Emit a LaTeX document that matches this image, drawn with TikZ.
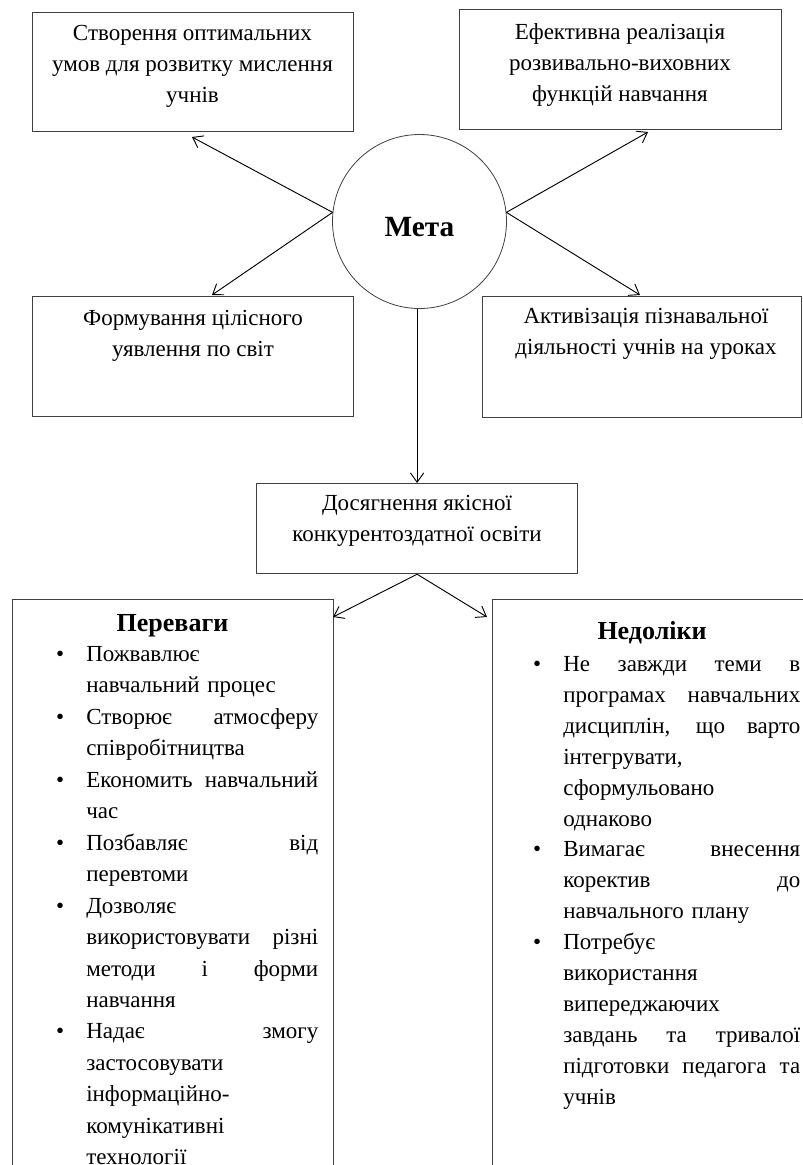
\documentclass[tikz,border=0pt]{standalone}
\usepackage{fontspec}
\setmainfont{Liberation Serif}
\usetikzlibrary{arrows.meta,calc}
\newcommand\jla[1]{\leavevmode\hbox to 174pt{\spaceskip=.3333em plus 1fil\relax #1}}
\newcommand\jlb[1]{\leavevmode\hbox to 177.75pt{\spaceskip=.3333em plus 1fil\relax #1}}
\newcommand\bul{\leavevmode\llap{\textbullet\hspace{16.5pt}}}
\begin{document}
\begin{tikzpicture}[x=0.75pt,y=-0.75pt,
  box/.style={draw=black!75,line width=0.9pt,inner sep=0pt,anchor=north west},
  txt/.style={align=center,inner sep=0pt,anchor=north,font=\fontsize{17.25pt}{23.25pt}\selectfont},
  listtxt/.style={align=left,inner sep=0pt,anchor=north west},
  head/.style={inner sep=0pt,anchor=north,font=\bfseries\fontsize{19.5pt}{23pt}\selectfont},
  arr/.style={-{Straight Barb[length=7pt,width=10pt]},line width=0.7pt}]
\useasboundingbox (0,0) rectangle (803,1165);
\clip (0,0) rectangle (803,1165);
\fill[white] (0,0) rectangle (803,1165);
% boxes
\node[box,minimum width=240.75pt,minimum height=89.25pt] (b1) at (32,12) {};
\node[box,minimum width=241.5pt,minimum height=90pt] (b2) at (459,9) {};
\node[box,minimum width=240.75pt,minimum height=90pt] (b3) at (32,296) {};
\node[box,minimum width=239.25pt,minimum height=90.75pt] (b4) at (482,296) {};
\node[box,minimum width=240.75pt,minimum height=67.5pt] (b5) at (256,483) {};
\node[box,minimum width=240.75pt,minimum height=450.75pt] (bl) at (12,599) {};
\node[box,minimum width=253.5pt,minimum height=450.75pt] (br) at (492,599) {};
% texts
\node[txt] (t1) at (192.5,25) {Створення оптимальних\\умов для розвитку мислення\\учнів};
\node[txt] (t2) at (620,23) {Ефективна реалізація\\розвивально-виховних\\функцій навчання};
\node[txt] (t3) at (193,310) {Формування цілісного\\уявлення по світ};
\node[txt] (t4) at (646,308) {Активізація пізнавальної\\діяльності учнів на уроках};
\node[txt] (t5) at (417,495) {Досягнення якісної\\конкурентоздатної освіти};
% circle
\node[circle,draw=black!75,line width=0.6pt,minimum size=130.5pt,inner sep=0pt] (meta) at (419.5,221.5) {};
\node[inner sep=0pt,font=\bfseries\fontsize{22pt}{26pt}\selectfont] (metat) at (419.5,227) {Мета};
% headings
\node[head] (hp) at (172.5,614) {Переваги};
\node[head] (hn) at (652,621) {Недоліки};
% lists
\node[listtxt,text width=174pt,font=\fontsize{17.25pt}{23.6pt}\selectfont] (pl) at (86,646) {%
\bul Пожвавлює\\
навчальний процес\\
\bul\jla{Створює атмосферу}\\
співробітництва\\
\bul\jla{Економить навчальний}\\
час\\
\bul\jla{Позбавляє від}\\
перевтоми\\
\bul Дозволяє\\
\jla{використовувати різні}\\
\jla{методи і форми}\\
навчання\\
\bul\jla{Надає змогу}\\
застосовувати\\
інформаційно-\\
комунікативні\\
технології};
\node[listtxt,text width=177.75pt,font=\fontsize{17.25pt}{23.2pt}\selectfont] (nl) at (563,656) {%
\bul\jlb{Не завжди теми в}\\
\jlb{програмах навчальних}\\
\jlb{дисциплін, що варто}\\
інтегрувати,\\
сформульовано\\
однаково\\
\bul\jlb{Вимагає внесення}\\
\jlb{коректив до}\\
навчального плану\\
\bul Потребує\\
використання\\
випереджаючих\\
\jlb{завдань та тривалої}\\
\jlb{підготовки педагога та}\\
учнів};
% arrow ends
\coordinate (e1) at (192,137);
\coordinate (e2) at (648,132);
\coordinate (e3) at (212,295);
\coordinate (e4) at (640,295);
\coordinate (e6) at (333,617);
\coordinate (e7) at (487,617);
% arrows
\draw[arr] (meta.174) -- (e1);
\draw[arr] (meta.6) -- (e2);
\draw[arr] (meta.174) -- (e3);
\draw[arr] (meta.6) -- (e4);
\draw[arr] (b5.north |- meta.south) -- (b5.north);
\draw[arr] (b5.south) -- (e6);
\draw[arr] (b5.south) -- (e7);
\end{tikzpicture}
\end{document}
